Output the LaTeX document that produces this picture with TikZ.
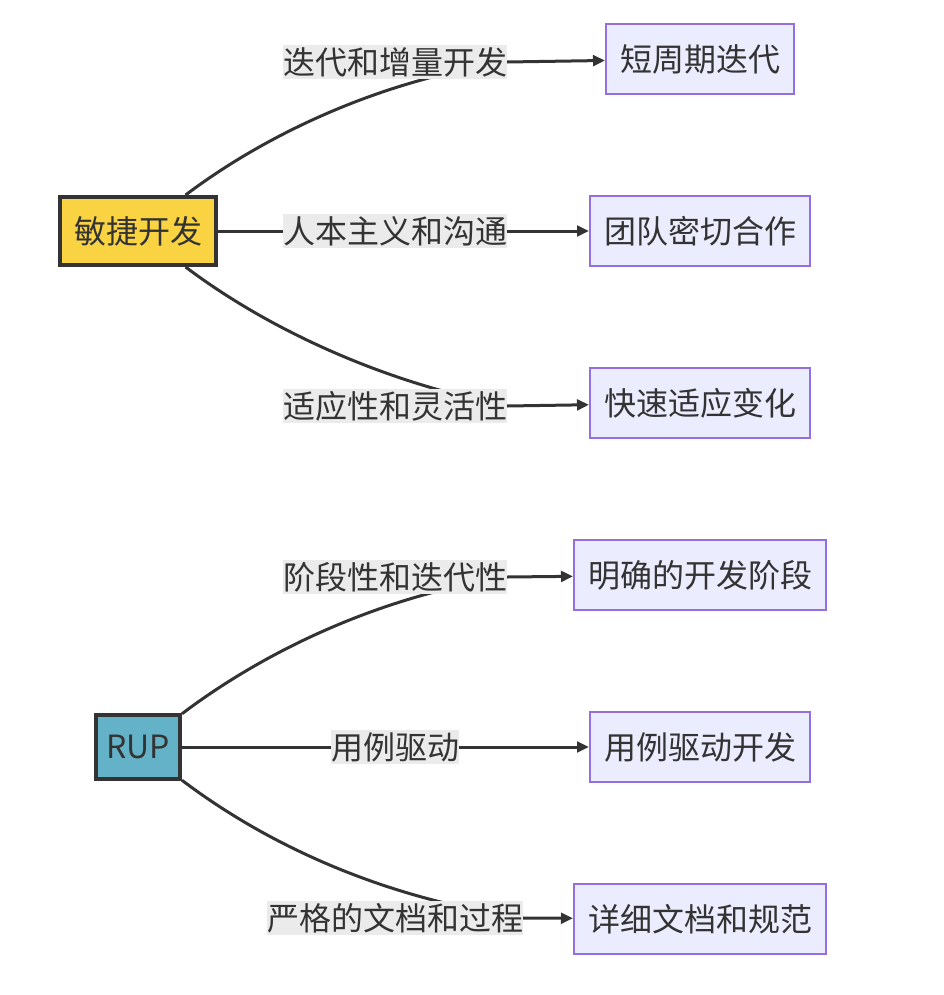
\documentclass[tikz,border=0pt]{standalone}
\usepackage{fontspec}
\setmainfont{Noto Sans CJK SC}
\usepackage{xcolor}
\usepackage{tikz}
\usetikzlibrary{arrows.meta}
\usetikzlibrary{backgrounds}

\definecolor{ink}{HTML}{333333}
\definecolor{agilefill}{HTML}{FAD343}
\definecolor{rupfill}{HTML}{64B2C8}
\definecolor{boxfill}{HTML}{ECECFF}
\definecolor{boxline}{HTML}{9370DB}
\definecolor{lblfill}{HTML}{EBEBEB}

\begin{document}
\begin{tikzpicture}[x=0.75pt,y=-0.75pt,
	font=\fontsize{24}{28}\selectfont,text=ink,
	root/.style={draw=ink,line width=3pt,inner xsep=10.5pt,minimum height=51pt},
	leaf/.style={draw=boxline,fill=boxfill,line width=1.5pt,inner xsep=10.5pt,minimum height=52.5pt},
	lbl/.style={fill=lblfill,inner sep=0pt,minimum height=26pt},
	edge/.style={draw=ink,line width=2.25pt,-{Triangle[length=9pt,width=8pt]}}]
\useasboundingbox (0,0) rectangle (944,995);
\begin{scope} %agile
	\node[root,fill=agilefill] (A) at (138,231) {敏捷开发};
	\node[leaf] (A1) at (700,59) {短周期迭代};
	\node[leaf] (A2) at (700,231) {团队密切合作};
	\node[leaf] (A3) at (700,403) {快速适应变化};
	\node[lbl] (X1) at (395,62) {迭代和增量开发};
	\node[lbl] (X2) at (395,231) {人本主义和沟通};
	\node[lbl] (X3) at (395,406) {适应性和灵活性};
	\begin{pgfonlayer}{background}
		\draw[edge] (A) .. controls (265,135) and (380,80) .. (X1.east) -- (A1);
		\draw[edge] (A) -- (X2.center) -- (A2);
		\draw[edge] (A) .. controls (265,327) and (380,382) .. (X3.east) -- (A3);
	\end{pgfonlayer}
\end{scope}
\begin{scope} %RUP
	\node[root,fill=rupfill,inner xsep=0pt,minimum width=63pt,minimum height=48pt] (R) at (138,747) {RUP};
	\node[leaf] (R1) at (700,575) {明确的开发阶段};
	\node[leaf] (R2) at (700,747) {用例驱动开发};
	\node[leaf] (R3) at (700,919) {详细文档和规范};
	\node[lbl] (Y1) at (395,577) {阶段性和迭代性};
	\node[lbl] (Y2) at (395,747) {用例驱动};
	\node[lbl] (Y3) at (395,918) {严格的文档和过程};
	\begin{pgfonlayer}{background}
		\draw[edge] (R) .. controls (265,651) and (380,596) .. (Y1.east) -- (R1);
		\draw[edge] (R) -- (Y2.center) -- (R2);
		\draw[edge] (R) .. controls (265,843) and (380,898) .. (Y3.east) -- (R3);
	\end{pgfonlayer}
\end{scope}
\end{tikzpicture}
\end{document}
